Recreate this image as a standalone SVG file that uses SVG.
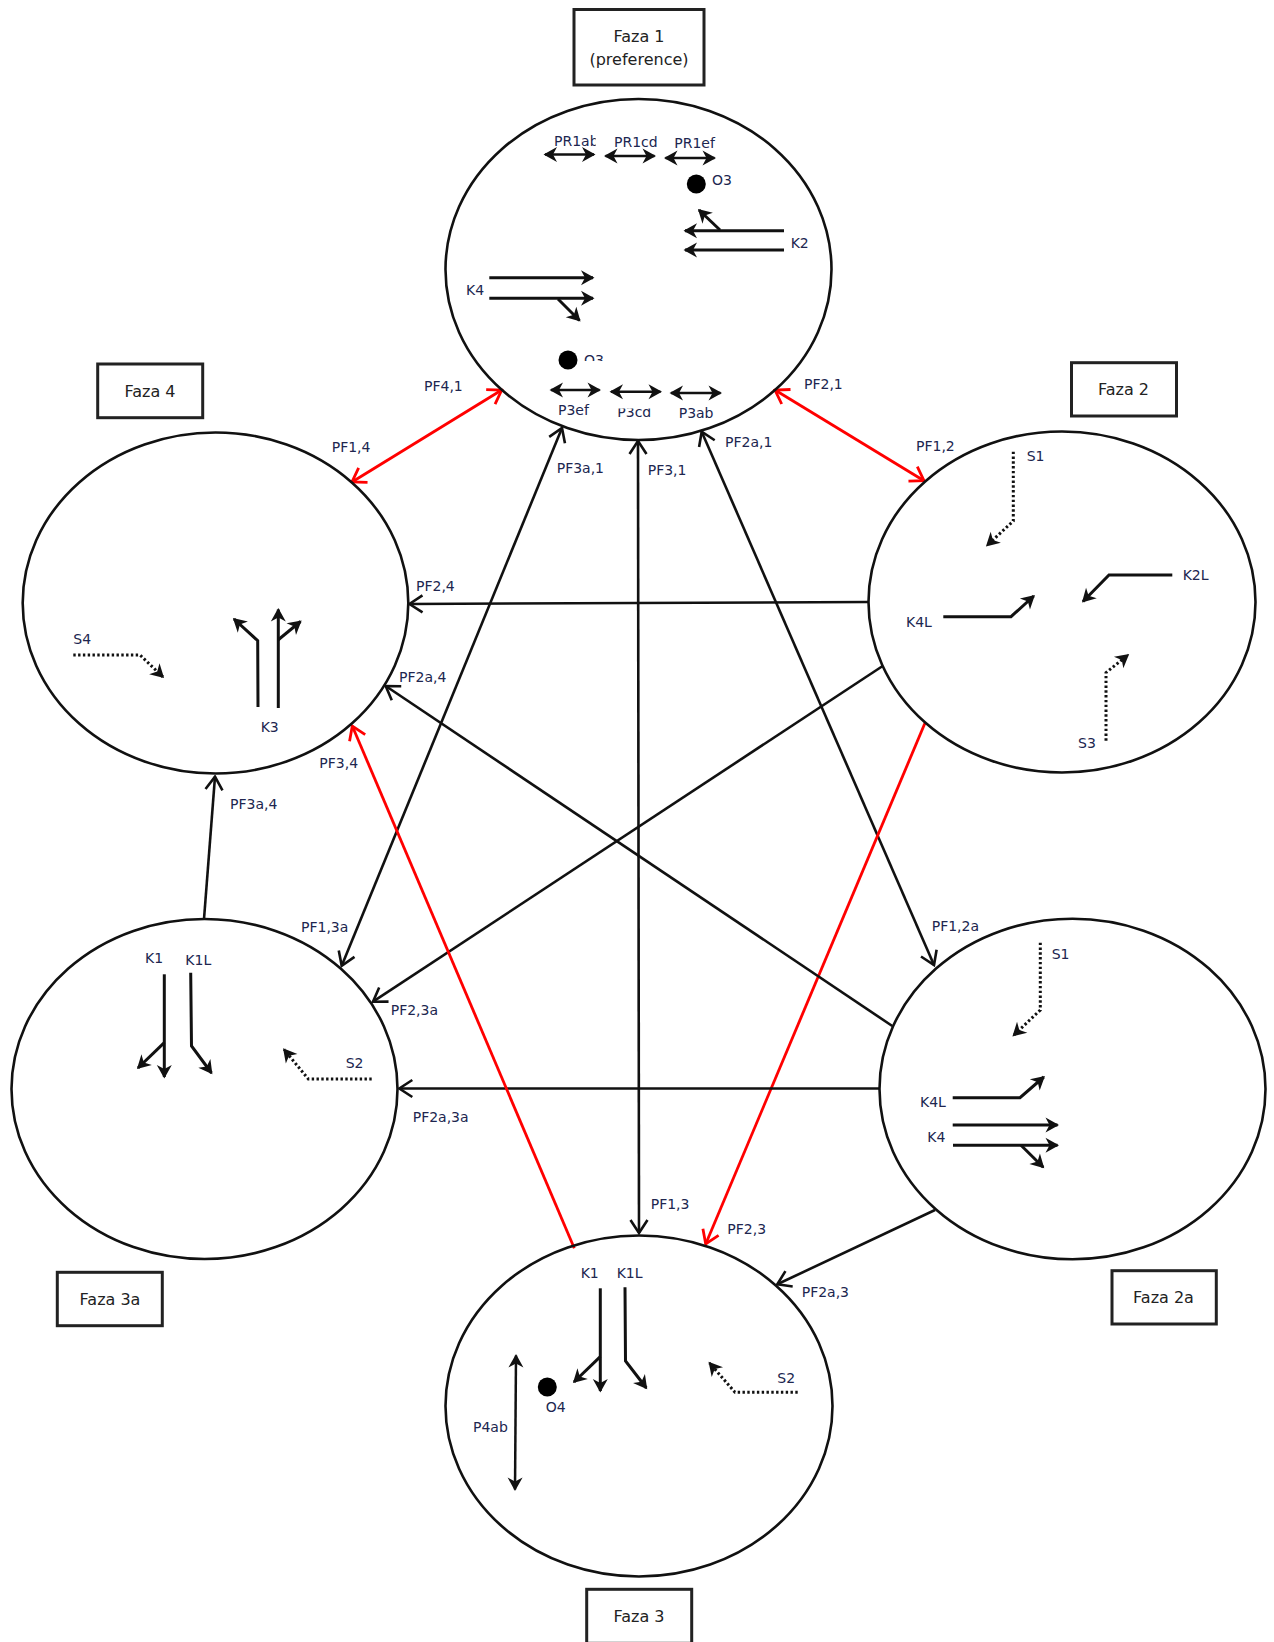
<svg xmlns="http://www.w3.org/2000/svg" width="1274" height="1642" viewBox="0 0 1274 1642">
<style>
text{font-family:"DejaVu Sans","Liberation Sans",sans-serif;font-size:14px;fill:#20264f}
.t{font-size:16px;fill:#222;text-anchor:middle}
.e{fill:none;stroke:#111;stroke-width:2.6}
.b{fill:#fff;stroke:#222;stroke-width:3}
.c{fill:none;stroke:#111;stroke-width:2.6;marker-end:url(#oa)}
.cd{fill:none;stroke:#111;stroke-width:2.6;marker-end:url(#oa);marker-start:url(#oa)}
.r{fill:none;stroke:#f00;stroke-width:2.8;marker-end:url(#ra)}
.rd{fill:none;stroke:#f00;stroke-width:2.8;marker-end:url(#ra);marker-start:url(#ra)}
.a{fill:none;stroke:#111;stroke-width:3;stroke-linejoin:miter;marker-end:url(#s)}
.p{fill:none;stroke:#111;stroke-width:2.5;marker-end:url(#s);marker-start:url(#s)}
.d{fill:none;stroke:#111;stroke-width:3;stroke-dasharray:2.4 2.4;marker-end:url(#s)}
</style>
<defs>
<marker id="oa" markerUnits="userSpaceOnUse" viewBox="-18 -11 20 22" markerWidth="20" markerHeight="22" refX="0" refY="0" orient="auto-start-reverse"><path d="M-13,-8.5 L0,0 L-13,8.5" fill="none" stroke="#111" stroke-width="2.6"/></marker>
<marker id="ra" markerUnits="userSpaceOnUse" viewBox="-18 -11 20 22" markerWidth="20" markerHeight="22" refX="0" refY="0" orient="auto-start-reverse"><path d="M-13,-8.5 L0,0 L-13,8.5" fill="none" stroke="#f00" stroke-width="2.8"/></marker>
<marker id="s" markerUnits="userSpaceOnUse" viewBox="-16 -10 19 20" markerWidth="19" markerHeight="20" refX="0" refY="0" orient="auto-start-reverse"><path d="M-12,-7.500 L1.500,0 L-12,7.500 L-8,0Z" fill="#111"/></marker>
<clipPath id="c1"><rect x="540" y="130" width="55.7" height="22"/></clipPath>
<clipPath id="c2"><rect x="575" y="345" width="40" height="16"/></clipPath>
<clipPath id="c3"><rect x="610" y="408.5" width="50" height="15"/></clipPath>
</defs>
<rect width="1274" height="1642" fill="#fff"/>

<g id="connectors">
<path class="rd" d="M352,482L501.7,390"/>
<path class="rd" d="M775,390L924,480.7"/>
<path class="cd" d="M562,428L341.7,965.7"/>
<path class="cd" d="M638,441L639,1233"/>
<path class="cd" d="M701.7,431.7L934,965"/>
<path class="c" d="M868,602L409.5,604"/>
<path class="c" d="M882.7,666L373,1001.7"/>
<path class="r" d="M925,723L705.7,1244"/>
<path class="c" d="M892.3,1026L385.7,686"/>
<path class="c" d="M204,919L215,776.7"/>
<path class="c" d="M879,1088.500L399.300,1088.500"/>
<path class="c" d="M935,1210L777.300,1284.300"/>
<path class="r" d="M574.300,1248.300L352.300,726"/>
<text x="424" y="390.7">PF4,1</text>
<text x="804" y="389.3">PF2,1</text>
<text x="916" y="451">PF1,2</text>
<text x="331.7" y="452.3">PF1,4</text>
<text x="416" y="590.7">PF2,4</text>
<text x="399" y="681.7">PF2a,4</text>
<text x="319.3" y="768">PF3,4</text>
<text x="230" y="809.3">PF3a,4</text>
<text x="556.7" y="473.3">PF3a,1</text>
<text x="647.7" y="475">PF3,1</text>
<text x="725" y="446.7">PF2a,1</text>
<text x="301" y="932">PF1,3a</text>
<text x="390.7" y="1015">PF2,3a</text>
<text x="412.7" y="1121.7">PF2a,3a</text>
<text x="931.7" y="931">PF1,2a</text>
<text x="650.7" y="1209.3">PF1,3</text>
<text x="727.3" y="1234.3">PF2,3</text>
<text x="801.7" y="1297.3">PF2a,3</text>
</g>

<g id="faza1">
<ellipse class="e" cx="638.500" cy="269.500" rx="193" ry="170.500"/>
<rect class="b" x="574" y="9.500" width="130" height="75.500"/>
<text class="t" x="639" y="42">Faza 1</text>
<text class="t" x="639" y="64.500">(preference)</text>
<path class="p" d="M545,154.500H594"/>
<path class="p" d="M605.500,156H654.500"/>
<path class="p" d="M665.500,158H714.500"/>
<g clip-path="url(#c1)"><text x="554" y="146">PR1ab</text></g>
<text x="614" y="147">PR1cd</text>
<text x="674.300" y="148.300">PR1ef</text>
<circle cx="696.300" cy="184" r="9.500" fill="#000"/>
<text x="712" y="185">O3</text>
<path class="a" d="M784,230.700H685"/>
<path class="a" d="M720,230L699,210"/>
<path class="a" d="M784,250H685"/>
<text x="790.700" y="248">K2</text>
<path class="a" d="M489.300,277.700H593"/>
<path class="a" d="M489.300,298.300H593"/>
<path class="a" d="M558,299L579.500,320.500"/>
<text x="466" y="295">K4</text>
<circle cx="568" cy="360" r="9.500" fill="#000"/>
<g clip-path="url(#c2)"><text x="584" y="365">O3</text></g>
<path class="p" d="M551,390H599.500"/>
<path class="p" d="M611,391.700H660.500"/>
<path class="p" d="M671,393H720.500"/>
<text x="558" y="415">P3ef</text>
<g clip-path="url(#c3)"><text x="617.300" y="416.700">P3cd</text></g>
<text x="678.700" y="417.700">P3ab</text>
</g>

<g id="faza2">
<ellipse class="e" cx="1062" cy="602" rx="193.500" ry="170.500"/>
<rect class="b" x="1071.500" y="362.700" width="105" height="53.300"/>
<text class="t" x="1123.500" y="395">Faza 2</text>
<path class="d" d="M1013.300,451.700V521L987,545.500"/>
<text x="1026.700" y="461">S1</text>
<path class="a" d="M943.300,616.700H1011L1033.800,596"/>
<text x="906" y="627.300">K4L</text>
<path class="a" d="M1172.300,575H1109L1083,601.500"/>
<text x="1182.700" y="580">K2L</text>
<path class="d" d="M1106,740.700V672.700L1128,655"/>
<text x="1078" y="747.700">S3</text>
</g>

<g id="faza4">
<ellipse class="e" cx="215.500" cy="603" rx="192.800" ry="170.500"/>
<rect class="b" x="97.700" y="364" width="105" height="53.700"/>
<text class="t" x="150" y="397">Faza 4</text>
<text x="73.300" y="644.300">S4</text>
<path class="d" d="M73.300,655H140L163,677"/>
<path class="a" d="M258,707L257.700,640.700L234,619"/>
<path class="a" d="M278.300,708V609.500"/>
<path class="a" d="M278,640L300.500,621.500"/>
<text x="260.700" y="732">K3</text>
</g>

<g id="faza3a">
<ellipse class="e" cx="204.500" cy="1089" rx="193" ry="170"/>
<rect class="b" x="57.300" y="1272.300" width="105" height="53.400"/>
<text class="t" x="110" y="1305">Faza 3a</text>
<text x="145" y="963.300">K1</text>
<text x="185.300" y="965">K1L</text>
<path class="a" d="M164.300,974.300V1077"/>
<path class="a" d="M164.300,1042.700L138,1068"/>
<path class="a" d="M190.700,972.700L191.500,1046L211.500,1073"/>
<path class="d" d="M371.700,1079H308.300L284,1049.500"/>
<text x="345.700" y="1068.300">S2</text>
</g>

<g id="faza2a">
<ellipse class="e" cx="1072.500" cy="1089" rx="193" ry="170.300"/>
<rect class="b" x="1112" y="1270.700" width="104.300" height="53.300"/>
<text class="t" x="1163.500" y="1303">Faza 2a</text>
<path class="d" d="M1040.300,942.700V1010L1013.500,1035.500"/>
<text x="1051.700" y="959.300">S1</text>
<path class="a" d="M952.700,1097.700H1020L1043.800,1077"/>
<text x="920" y="1107.300">K4L</text>
<path class="a" d="M952.700,1125H1057.500"/>
<path class="a" d="M953,1145.300H1057.500"/>
<path class="a" d="M1021,1145.300L1043.200,1167.200"/>
<text x="927.300" y="1142.300">K4</text>
</g>

<g id="faza3">
<ellipse class="e" cx="639" cy="1406" rx="193.500" ry="170.500"/>
<rect class="b" x="586.700" y="1589.300" width="105" height="54"/>
<text class="t" x="639" y="1622">Faza 3</text>
<text x="580.700" y="1278.300">K1</text>
<text x="616.700" y="1278.300">K1L</text>
<path class="a" d="M600.300,1288.300V1391"/>
<path class="a" d="M600.300,1356.700L574,1382"/>
<path class="a" d="M625,1287.300L625.500,1361L646.300,1388"/>
<path class="d" d="M797.700,1392.300H735L709.500,1363"/>
<text x="777.300" y="1383.300">S2</text>
<circle cx="547.300" cy="1387" r="9.500" fill="#000"/>
<text x="545.700" y="1412.300">O4</text>
<text x="473" y="1431.700">P4ab</text>
<path class="p" d="M516,1355.500L515,1489.500"/>
</g>
</svg>
